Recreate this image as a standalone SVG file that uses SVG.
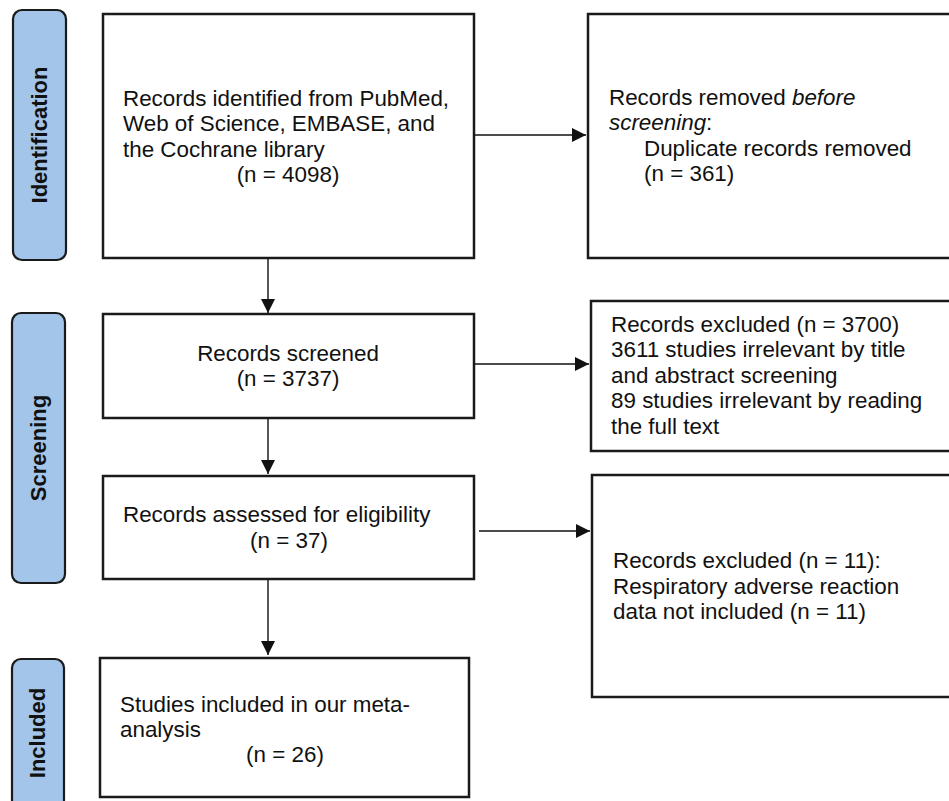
<svg xmlns="http://www.w3.org/2000/svg" width="949" height="801" viewBox="0 0 949 801">
<style>
.box{fill:#fff;stroke:#1a1a1a;stroke-width:2.5}
.pill{fill:#a3c5e9;stroke:#1a1a1a;stroke-width:2.2}
.t{font-family:"Liberation Sans",Arial,sans-serif;font-size:22.4px;fill:#111}
.lab{font-family:"Liberation Sans",Arial,sans-serif;font-size:22px;font-weight:bold;fill:#111}
.c{text-anchor:middle}
.conn{stroke:#111;stroke-width:1.4;fill:none}
</style>
<defs>
<marker id="ah" viewBox="0 0 10 10" refX="10" refY="5" markerWidth="15" markerHeight="14" markerUnits="userSpaceOnUse" orient="auto">
<path d="M0,0 L10,5 L0,10 Z" fill="#111"/>
</marker>
</defs>
<rect width="949" height="801" fill="#fff"/>

<g id="phase-identification">
<rect class="pill" x="13" y="10" width="53" height="250" rx="9"/>
<text class="lab c" transform="translate(47,135) rotate(-90)">Identification</text>
</g>
<g id="phase-screening">
<rect class="pill" x="12" y="313" width="53" height="270" rx="9"/>
<text class="lab c" transform="translate(46,448) rotate(-90)">Screening</text>
</g>
<g id="phase-included">
<rect class="pill" x="12" y="659" width="52" height="160" rx="9"/>
<text class="lab c" transform="translate(45,733) rotate(-90)">Included</text>
</g>

<g id="identified">
<rect class="box" x="103" y="14" width="371" height="244"/>
<text class="t" x="123" y="106">Records identified from PubMed,</text>
<text class="t" x="123" y="131">Web of Science, EMBASE, and</text>
<text class="t" x="123" y="157">the Cochrane library</text>
<text class="t c" x="288" y="182">(n = 4098)</text>
</g>

<g id="removed">
<rect class="box" x="588" y="14" width="380" height="244"/>
<text class="t" x="609" y="105">Records removed <tspan font-style="italic">before</tspan></text>
<text class="t" x="609" y="130"><tspan font-style="italic">screening</tspan>:</text>
<text class="t" x="644" y="156">Duplicate records removed</text>
<text class="t" x="644" y="181">(n = 361)</text>
</g>

<g id="screened">
<rect class="box" x="103" y="314" width="371" height="104"/>
<text class="t c" x="288" y="361">Records screened</text>
<text class="t c" x="288" y="386">(n = 3737)</text>
</g>

<g id="excluded-screening">
<rect class="box" x="591" y="301" width="380" height="150"/>
<text class="t" x="611" y="332">Records excluded (n = 3700)</text>
<text class="t" x="611" y="357">3611 studies irrelevant by title</text>
<text class="t" x="611" y="383">and abstract screening</text>
<text class="t" x="611" y="408">89 studies irrelevant by reading</text>
<text class="t" x="611" y="434">the full text</text>
</g>

<g id="assessed">
<rect class="box" x="103" y="476" width="371" height="103"/>
<text class="t" x="123" y="522">Records assessed for eligibility</text>
<text class="t c" x="289" y="548">(n = 37)</text>
</g>

<g id="excluded-eligibility">
<rect class="box" x="592" y="475" width="380" height="222"/>
<text class="t" x="613" y="568">Records excluded (n = 11):</text>
<text class="t" x="613" y="594">Respiratory adverse reaction</text>
<text class="t" x="613" y="619">data not included (n = 11)</text>
</g>

<g id="included">
<rect class="box" x="100" y="658" width="369" height="139"/>
<text class="t" x="120" y="712">Studies included in our meta-</text>
<text class="t" x="120" y="737">analysis</text>
<text class="t c" x="285" y="762">(n = 26)</text>
</g>

<g id="connectors">
<line class="conn" x1="474" y1="135" x2="586" y2="135" marker-end="url(#ah)"/>
<line class="conn" x1="268" y1="259" x2="268" y2="313" marker-end="url(#ah)"/>
<line class="conn" x1="474" y1="364" x2="589" y2="364" marker-end="url(#ah)"/>
<line class="conn" x1="268" y1="419" x2="268" y2="474" marker-end="url(#ah)"/>
<line class="conn" x1="479" y1="531" x2="590" y2="531" marker-end="url(#ah)"/>
<line class="conn" x1="268" y1="580" x2="268" y2="655" marker-end="url(#ah)"/>
</g>
</svg>
